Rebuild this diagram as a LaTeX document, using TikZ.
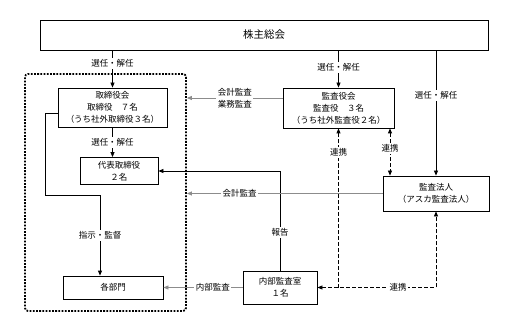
\documentclass[tikz,border=0pt]{standalone}
\usepackage{fontspec}
\usepackage{xcolor}
\usepackage{tikz}
\usetikzlibrary{
  arrows.meta,
  positioning
}
\newfontfamily\jpfont{Noto Sans CJK JP}
\definecolor{LineGray}{RGB}{140, 140, 140}
\tikzset{
    orgbox/.style={draw, line width=0.8pt, fill=white, align=center, inner sep=0pt,
        font=\jpfont\fontsize{8.5}{12}\selectfont},
    lbl/.style={fill=white, inner sep=1.5pt, align=center,
        font=\jpfont\fontsize{8.5}{12}\selectfont},
    conn/.style={line width=0.8pt, -{Triangle[length=5pt, width=4pt]}},
    audit/.style={conn, draw=LineGray},
    coop/.style={conn, dash pattern=on 4pt off 2pt},
    ctrlframe/.style={draw, line width=1.8pt, dash pattern=on 1.8pt off 1.4pt, rounded corners=3pt}
}

\begin{document}
\begin{tikzpicture}[x=1pt, y=-1pt]
    \useasboundingbox (0,0) rectangle (507,321);

    % frame round the executive side
    \node[ctrlframe, minimum width=161pt, minimum height=237pt] (ctrl) at (105.5,192.5) {};

    % boxes
    \node[orgbox, minimum width=448pt, minimum height=30pt,
          font=\jpfont\fontsize{10.5}{13}\selectfont] (soukai) at (264,35) {株主総会};
    \node[orgbox, minimum width=109pt, minimum height=39pt] (board) at (112.5,107.5)
        {取締役会\\取締役　７名\\（うち社外取締役３名）};
    \node[orgbox, minimum width=78pt, minimum height=27pt] (daihyo) at (119,171)
        {代表取締役\\２名};
    \node[orgbox, minimum width=100pt, minimum height=23pt] (bumon) at (113,287.5) {各部門};
    \node[orgbox, minimum width=74pt, minimum height=33pt] (naibu) at (280,287.5)
        {内部監査室\\１名};
    \node[orgbox, minimum width=111pt, minimum height=40pt] (kansa) at (338.5,108)
        {監査役会\\監査役　３名\\（うち社外監査役２名）};
    \node[orgbox, minimum width=106pt, minimum height=35pt] (hojin) at (436,193.5)
        {監査法人\\（アスカ監査法人）};

    % appointment
    \draw[conn] (soukai.south -| board.north) -- node[lbl, pos=0.35] {選任・解任} (board.north);
    \draw[conn] (soukai.south -| kansa.north) -- node[lbl, pos=0.45] {選任・解任} (kansa.north);
    \draw[conn] (soukai.south -| hojin.north) -- node[lbl, pos=0.36] {選任・解任} (hojin.north);
    \draw[conn] (board.south) -- node[lbl] {選任・解任} (board.south |- daihyo.north);

    % instruction and report
    \coordinate (turn) at (45,195);
    \draw[conn] ([yshift=-6pt]board.west) -| (turn)
        -| node[lbl, pos=0.75] {指示・監督} ([xshift=-13pt]bumon.north);
    \draw[conn] (naibu.north) |- node[lbl, pos=0.19] {報告} (daihyo.east);

    % audits
    \coordinate (ka) at ([yshift=10pt]kansa.west);
    \draw[audit] (ka) -- node[lbl] {会計監査\\業務監査} (ka -| ctrl.east);
    \draw[audit] (hojin.west) -- node[lbl, pos=0.73] {会計監査} (hojin.west -| ctrl.east);
    \draw[audit] (naibu.west) -- node[lbl, pos=0.375] {内部監査} (bumon.east);

    % cooperation
    \coordinate (kc) at ([xshift=51.5pt]kansa.south);
    \draw[coop, {Triangle[length=5pt, width=4pt]}-{Triangle[length=5pt, width=4pt]}]
        (kc) -- node[lbl, pos=0.42] {連携} (kc |- hojin.north);
    \draw[coop, {Triangle[length=5pt, width=4pt]}-{Triangle[length=5pt, width=4pt]}]
        (naibu.east) -| node[lbl, pos=0.34] {連携} (hojin.south);
    \draw[coop] (kansa.south |- naibu.east) -- node[lbl, pos=0.85] {連携} (kansa.south);
\end{tikzpicture}
\end{document}
